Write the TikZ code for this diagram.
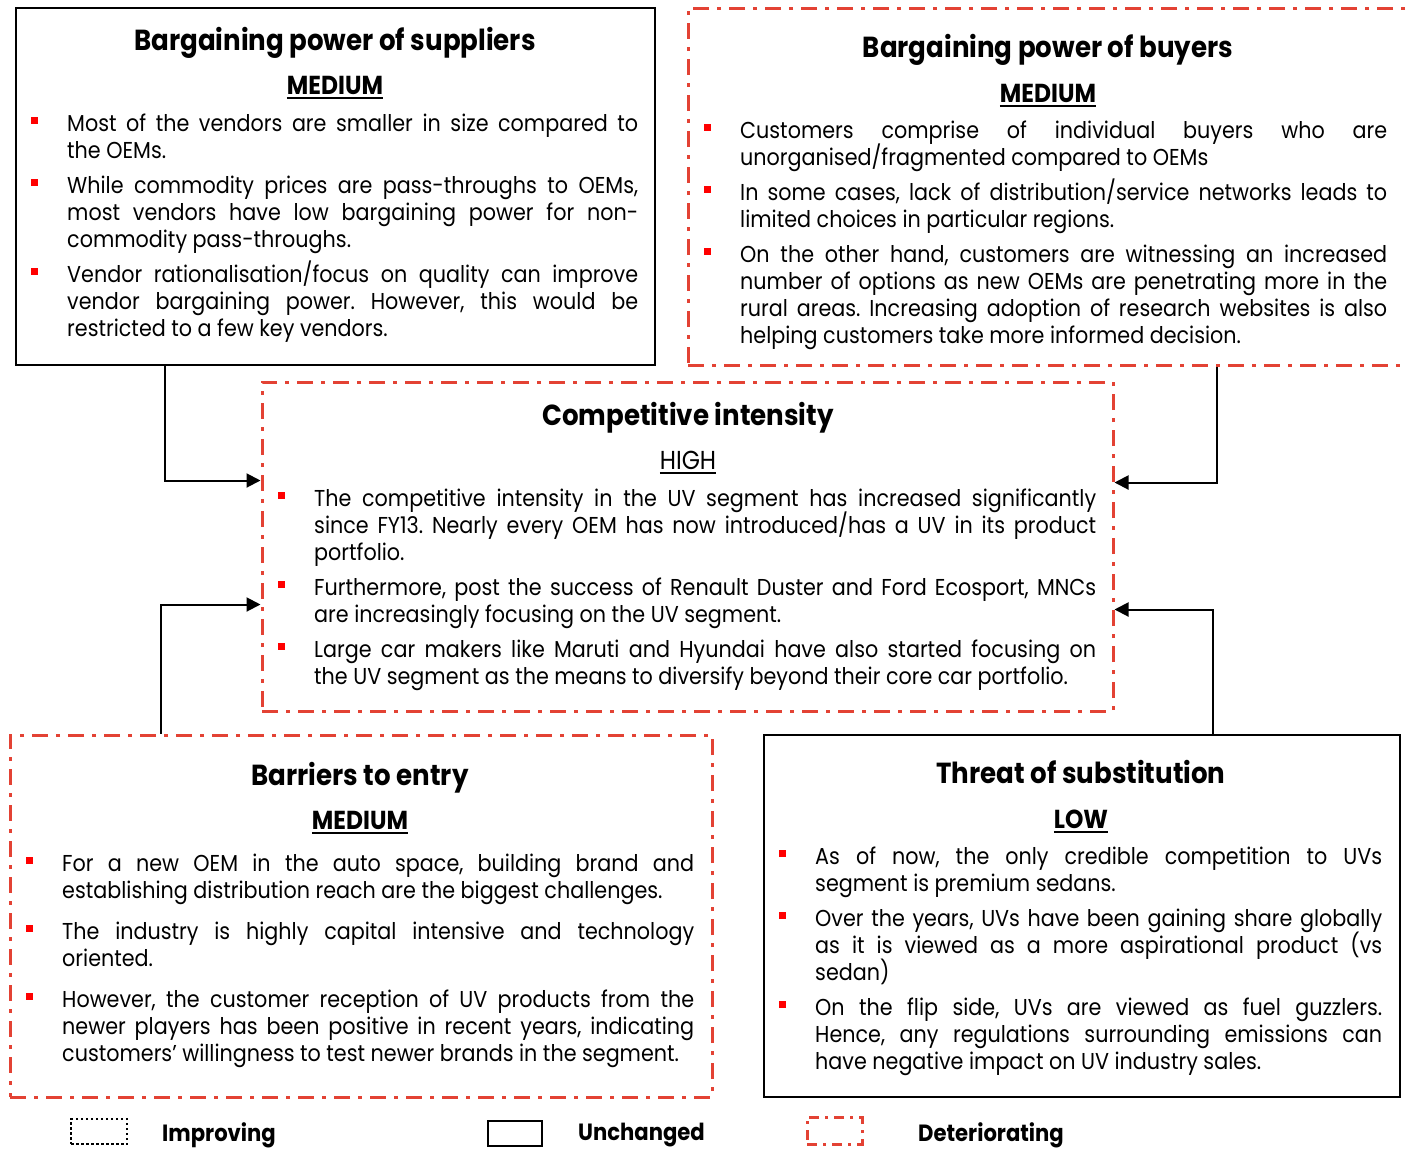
\documentclass[tikz,border=0pt]{standalone}
\usepackage{fontspec}
\setmainfont{Poppins}[FakeStretch=0.90]
\usetikzlibrary{arrows.meta}
\definecolor{dred}{RGB}{227,66,52}
\definecolor{bulred}{RGB}{255,0,0}
\frenchspacing
\newlength{\bulind}\setlength{\bulind}{36pt}
\newcommand\J[1]{\makebox[\linewidth][s]{#1}\\}
\newcommand\bul{\noindent\llap{\makebox[\bulind][l]{\textcolor{bulred}{\rule[7pt]{7pt}{7pt}}}}}
\newcommand\ulin[1]{\setbox0\hbox{#1}\rlap{\rule[-5pt]{\wd0}{2.5pt}}\box0}
\newcommand\bodyfont{\fontsize{23}{27}\selectfont\lineskiplimit=-100pt\lineskip=0pt}
\begin{document}
\begin{tikzpicture}[x=1pt,y=-1pt,
  solidbox/.style={draw=black,line width=2.5pt,rectangle,inner sep=0pt},
  redbox/.style={draw=dred,line width=3pt,rectangle,inner sep=0pt,dash pattern=on 16pt off 8pt on 4pt off 8pt},
  ttl/.style={anchor=base,inner sep=0pt,font=\fontsize{29}{34}\selectfont\bfseries},
  lvl/.style={anchor=base,inner sep=0pt,font=\fontsize{26}{30}\selectfont},
  body/.style={anchor=base west,inner sep=0pt},
  leg/.style={anchor=base west,inner sep=0pt,font=\fontsize{23.5}{28}\selectfont\bfseries},
  arr/.style={draw=black,line width=2pt,-{Triangle[length=14pt,width=14pt]}}]
\useasboundingbox (0,0) rectangle (1406,1149);
% boxes
\node[solidbox,minimum width=639pt,minimum height=357pt] (sup) at (335.5,186.5) {};
\node[redbox,minimum width=732pt,minimum height=357pt] (buy) at (1054,186.5) {};
\node[redbox,minimum width=851pt,minimum height=329pt] (comp) at (687.5,546.5) {};
\node[redbox,minimum width=702pt,minimum height=362pt] (bar) at (361,916) {};
\node[solidbox,minimum width=636pt,minimum height=362pt] (thr) at (1082,916) {};
% connectors
\draw[arr] ([xshift=150pt]sup.south west) |- ([yshift=-100pt]comp.north west);
\draw[arr] ([xshift=530pt]buy.south west) |- ([yshift=-102pt]comp.north east);
\draw[arr] ([xshift=152pt]bar.north west) |- ([yshift=-224pt]comp.north west);
\draw[arr] ([xshift=450pt]thr.north west) |- ([yshift=-229pt]comp.north east);
% suppliers
\node[ttl] (supt) at (335,50) {Bargaining power of suppliers};
\node[lvl] (supl) at (335,94) {\bfseries\ulin{MEDIUM}};
\node[body] (supb) at (67,131) {\parbox[t]{571pt}{\bodyfont
\bul\J{Most of the vendors are smaller in size compared to}the OEMs.\par\vspace{8pt}
\bul\J{While commodity prices are pass-throughs to OEMs,}\J{most vendors have low bargaining power for non-}commodity pass-throughs.\par\vspace{8pt}
\bul\J{Vendor rationalisation/focus on quality can improve}\J{vendor bargaining power. However, this would be}restricted to a few key vendors.\par}};
% buyers
\node[ttl] (buyt) at (1048,57) {Bargaining power of buyers};
\node[lvl] (buyl) at (1048,102) {\bfseries\ulin{MEDIUM}};
\node[body] (buyb) at (740,138) {\parbox[t]{647pt}{\bodyfont
\bul\J{Customers comprise of individual buyers who are}unorganised/fragmented compared to OEMs\par\vspace{8pt}
\bul\J{In some cases, lack of distribution/service networks leads to}limited choices in particular regions.\par\vspace{8pt}
\bul\J{On the other hand, customers are witnessing an increased}\J{number of options as new OEMs are penetrating more in the}\J{rural areas. Increasing adoption of research websites is also}helping customers take more informed decision.\par}};
% competitive
\node[ttl] (compt) at (688,425) {Competitive intensity};
\node[lvl] (compl) at (688,469) {\ulin{HIGH}};
\node[body] (compb) at (314,506) {\parbox[t]{782pt}{\bodyfont
\bul\J{The competitive intensity in the UV segment has increased significantly}\J{since FY13. Nearly every OEM has now introduced/has a UV in its product}portfolio.\par\vspace{8pt}
\bul\J{Furthermore, post the success of Renault Duster and Ford Ecosport, MNCs}are increasingly focusing on the UV segment.\par\vspace{8pt}
\bul\J{Large car makers like Maruti and Hyundai have also started focusing on}the UV segment as the means to diversify beyond their core car portfolio.\par}};
% barriers
\node[ttl] (bart) at (360,785) {Barriers to entry};
\node[lvl] (barl) at (360,829) {\bfseries\ulin{MEDIUM}};
\node[body] (barb) at (62,871) {\parbox[t]{632pt}{\bodyfont
\bul\J{For a new OEM in the auto space, building brand and}establishing distribution reach are the biggest challenges.\par\vspace{14pt}
\bul\J{The industry is highly capital intensive and technology}oriented.\par\vspace{14pt}
\bul\J{However, the customer reception of UV products from the}\J{newer players has been positive in recent years, indicating}customers’ willingness to test newer brands in the segment.\par}};
% threat
\node[ttl] (thrt) at (1081,783) {Threat of substitution};
\node[lvl] (thrl) at (1081,828) {\bfseries\ulin{LOW}};
\node[body] (thrb) at (815,864) {\parbox[t]{567pt}{\bodyfont
\bul\J{As of now, the only credible competition to UVs}segment is premium sedans.\par\vspace{8pt}
\bul\J{Over the years, UVs have been gaining share globally}\J{as it is viewed as a more aspirational product (vs}sedan)\par\vspace{8pt}
\bul\J{On the flip side, UVs are viewed as fuel guzzlers.}\J{Hence, any regulations surrounding emissions can}have negative impact on UV industry sales.\par}};
% legend
\node[draw=black,line width=2.5pt,dash pattern=on 2.5pt off 2.5pt,minimum width=56pt,minimum height=25pt,inner sep=0pt] (limp) at (99,1131.5) {};
\node[leg] (limpt) at (162,1141) {Improving};
\node[draw=black,line width=2.5pt,minimum width=54pt,minimum height=25pt,inner sep=0pt] (lunc) at (515,1133.5) {};
\node[leg] (lunct) at (578,1140) {Unchanged};
\node[redbox,minimum width=55pt,minimum height=27pt,dash pattern=on 10pt off 6pt on 3pt off 6pt] (ldet) at (834.5,1130.5) {};
\node[leg] (ldett) at (918,1141) {Deteriorating};
\end{tikzpicture}
\end{document}
